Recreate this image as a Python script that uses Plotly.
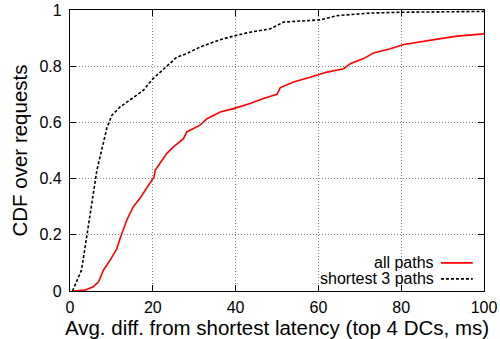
import plotly.graph_objects as go

# CDF of average latency difference from the shortest path (top 4 DCs)
all_x = [0.8, 3.6, 5.6, 6.9, 8.1, 9.7, 11.3, 12.1, 13.7, 15.3, 16.9, 18.5, 19.8, 20.3, 20.6,
         21.8, 23.4, 25.0, 27.4, 28.2, 31.4, 33.1, 36.3, 39.5, 43.5, 46.7, 50.0, 50.8, 54.0,
         58.0, 62.1, 66.1, 67.7, 70.9, 73.3, 77.4, 80.6, 89.5, 93.5, 100.0]
all_y = [0.0, 0.003, 0.015, 0.033, 0.075, 0.11, 0.15, 0.187, 0.252, 0.30, 0.33, 0.365, 0.394,
         0.406, 0.43, 0.455, 0.49, 0.513, 0.542, 0.566, 0.59, 0.613, 0.637, 0.649, 0.667,
         0.685, 0.70, 0.724, 0.744, 0.761, 0.779, 0.791, 0.809, 0.827, 0.847, 0.862, 0.877,
         0.898, 0.907, 0.915]

short_x = [0.6, 2.8, 4.0, 6.5, 8.9, 10.1, 12.1, 15.3, 17.7, 20.0, 23.4, 25.8, 28.2, 31.4,
           34.7, 37.1, 40.3, 43.5, 48.4, 51.6, 60.5, 64.5, 72.6, 79.8, 100.0]
short_y = [0.0, 0.075, 0.19, 0.43, 0.58, 0.625, 0.655, 0.69, 0.714, 0.755, 0.80, 0.832,
           0.845, 0.868, 0.886, 0.898, 0.91, 0.921, 0.933, 0.957, 0.965, 0.98, 0.989, 0.992,
           0.995]

x_ticks = [0, 20, 40, 60, 80, 100]
y_ticks = [0, 0.2, 0.4, 0.6, 0.8, 1]

FONT = "Liberation Sans, Arial, Helvetica, sans-serif"
TICK_SIZE = 16
TITLE_SIZE = 20.5

fig = go.Figure()
fig.add_trace(go.Scatter(x=all_x, y=all_y, mode="lines", name="all paths",
                         line=dict(color="#ff0000", width=1.6)))
fig.add_trace(go.Scatter(x=short_x, y=short_y, mode="lines", name="shortest 3 paths",
                         line=dict(color="#000000", width=1.6, dash="3px,2px")))

axis_common = dict(
    showline=True, linecolor="black", linewidth=1.3, mirror="ticks",
    ticks="inside", ticklen=6, tickcolor="black", tickwidth=1,
    showgrid=True, gridcolor="#8a8a8a", gridwidth=1, griddash="1px,2px",
    zeroline=False, tickfont=dict(size=TICK_SIZE, color="black", family=FONT),
)

fig.update_xaxes(range=[0, 100], tickvals=x_ticks, ticklabelstandoff=2, **axis_common,
                 title=dict(text="Avg. diff. from shortest latency (top 4 DCs, ms)",
                            font=dict(size=TITLE_SIZE, color="black", family=FONT), standoff=4))
fig.update_yaxes(range=[0, 1], tickvals=y_ticks, ticklabelstandoff=4, **axis_common,
                 title=dict(text="CDF over requests",
                            font=dict(size=TITLE_SIZE, color="black", family=FONT), standoff=6))

# gnuplot-style key: labels right-aligned with the sample line to their right
legend_rows = [("all paths", dict(color="#ff0000", width=1.6), 0.100),
               ("shortest 3 paths", dict(color="#000000", width=1.6, dash="3px,2px"), 0.043)]
for label, style, ypos in legend_rows:
    fig.add_annotation(x=0.884, y=ypos, xref="paper", yref="paper", text=label,
                       showarrow=False, xanchor="right", yanchor="middle",
                       font=dict(size=TICK_SIZE, color="black", family=FONT))
    fig.add_shape(type="line", xref="paper", yref="paper", x0=0.896, x1=0.973,
                  y0=ypos, y1=ypos, line=style)

fig.update_layout(
    width=500, height=339,
    margin=dict(l=70, r=16, t=10, b=48, autoexpand=False),
    paper_bgcolor="white", plot_bgcolor="white",
    showlegend=False,
    font=dict(family=FONT, color="black"),
)

fig.write_html("out.html")
